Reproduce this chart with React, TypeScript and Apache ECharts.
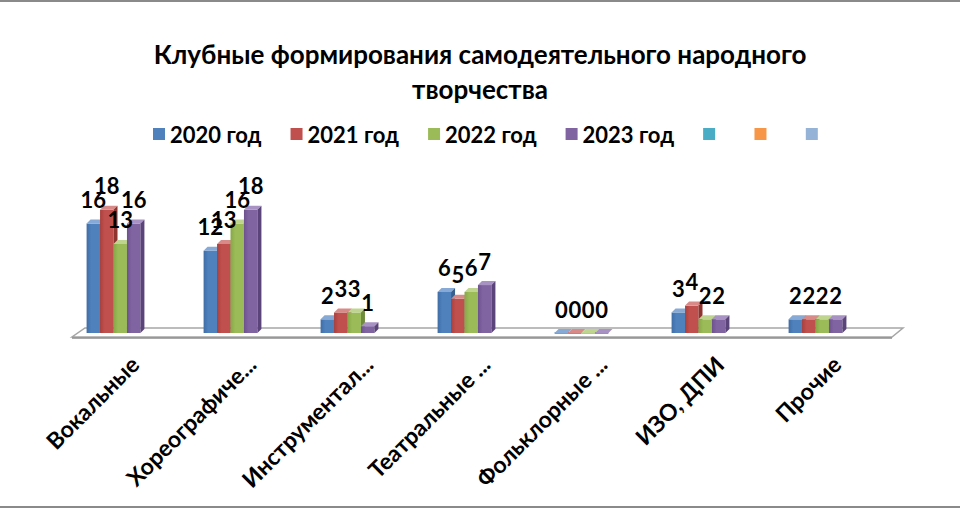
import React, { useEffect, useRef } from "react";
import * as echarts from "echarts";

const categories = [
  "Вокальные",
  "Хореографиче...",
  "Инструментал...",
  "Театральные ...",
  "Фольклорные ...",
  "ИЗО, ДПИ",
  "Прочие",
];
const years = ["2020 год", "2021 год", "2022 год", "2023 год"];
const values2020 = [16, 12, 2, 6, 0, 3, 2];
const values2021 = [18, 13, 3, 5, 0, 4, 2];
const values2022 = [13, 16, 3, 6, 0, 2, 2];
const values2023 = [16, 18, 1, 7, 0, 2, 2];
const emptySeriesNames = ["\u00a0", "\u00a0\u200b", "\u00a0\u200b\u200b"];

const palette = [
  { front: "#4F81BD", top: "#86A9D6", side: "#37608F", dark: "#3F6EA6" },
  { front: "#C0504D", top: "#D88A88", side: "#8E3532", dark: "#A9403D" },
  { front: "#9BBB59", top: "#BFD58F", side: "#6F8C3A", dark: "#87A747" },
  { front: "#8064A2", top: "#A892C3", side: "#5A4479", dark: "#6D528F" },
];
const emptyColors = ["#4BACC6", "#F79646", "#95B3D7"];

const FONT = "Lato, 'Open Sans', sans-serif";

export default function App() {
  const ref = useRef<HTMLDivElement>(null);

  useEffect(() => {
    if (!ref.current) return;
    const chart = echarts.init(ref.current, undefined, { renderer: "svg" });
    const seriesValues = [values2020, values2021, values2022, values2023];

    const makeRender = (s: number) => (params: any, api: any) => {
      const ci = api.value(0);
      const v = api.value(1);
      const base = api.coord([ci, 0]);
      const top = api.coord([ci, v]);
      const band = api.size([1, 0])[0];
      const bw = band * 0.115;
      const x0 = base[0] + (s - 2) * bw;
      const x1 = x0 + bw;
      const yb = base[1];
      const yt = top[1];
      const d = 4;
      const c = palette[s];
      const children: any[] = [];
      if (yb - yt > 0.5) {
        children.push({
          type: "rect",
          shape: { x: x0, y: yt, width: bw, height: yb - yt },
          style: {
            fill: new echarts.graphic.LinearGradient(0, 0, 1, 0, [
              { offset: 0, color: c.dark },
              { offset: 0.35, color: c.front },
              { offset: 1, color: c.front },
            ]),
          },
        });
      } else {
        children.push({
          type: "line",
          shape: { x1: x0, y1: yb, x2: x1, y2: yb },
          style: { stroke: c.front, lineWidth: 1.5 },
        });
      }
      children.push({
        type: "polygon",
        shape: { points: [[x0, yt], [x1, yt], [x1 + d, yt - d], [x0 + d, yt - d]] },
        style: { fill: c.top },
      });
      children.push({
        type: "polygon",
        shape: { points: [[x1, yt], [x1 + d, yt - d], [x1 + d, yb - d], [x1, yb]] },
        style: { fill: c.side },
      });
      children.push({
        type: "text",
        z2: 100,
        style: {
          text: String(v),
          x: x0 + bw / 2,
          y: yt - 24,
          align: "center",
          verticalAlign: "middle",
          fill: "#000",
          fontSize: 22,
          fontWeight: "bold",
          fontFamily: FONT,
        },
      });
      return { type: "group", children };
    };

    const floorRender = (params: any, api: any) => {
      const cs = params.coordSys;
      const yf = cs.y + cs.height + 4;
      const yback = yf - 9;
      const xl = cs.x + 17;
      const xr = cs.x + cs.width + 18;
      return {
        type: "group",
        children: [
          {
            type: "polygon",
            shape: { points: [[xl, yf], [xr, yf], [xr + 11, yback], [xl + 13, yback]] },
            style: { fill: "#FFFFFF", stroke: "#A6A6A6", lineWidth: 1.5 },
          },
          {
            type: "line",
            shape: { x1: xl, y1: yf + 1, x2: xr, y2: yf + 1 },
            style: { stroke: "#8C8C8C", lineWidth: 1.5 },
          },
        ],
      };
    };

    const series: any[] = [
      {
        type: "custom",
        name: "floor",
        xAxisIndex: 0,
        yAxisIndex: 0,
        renderItem: floorRender,
        data: [[0, 0]],
        encode: { x: 0, y: 1 },
        silent: true,
        z: 1,
      },
      ...years.map((name, s) => ({
        type: "custom",
        name,
        xAxisIndex: 0,
        yAxisIndex: 0,
        itemStyle: { color: palette[s].front },
        renderItem: makeRender(s),
        encode: { x: 0, y: 1 },
        data: seriesValues[s].map((v, i) => [i, v]),
        z: 2,
      })),
      ...emptySeriesNames.map((name, k) => ({
        type: "bar",
        name,
        xAxisIndex: 0,
        yAxisIndex: 0,
        itemStyle: { color: emptyColors[k] },
        data: [],
      })),
    ];

    chart.setOption({
      animation: false,
      backgroundColor: "#FFFFFF",
      title: {
        text: "Клубные формирования самодеятельного народного\nтворчества",
        left: "center",
        top: 31,
        textStyle: {
          fontFamily: FONT,
          fontSize: 26,
          fontWeight: "bold",
          color: "#000",
          lineHeight: 35,
        },
      },
      legend: {
        left: 153,
        top: 123,
        padding: 0,
        icon: "rect",
        itemWidth: 12,
        itemHeight: 12,
        itemGap: 29,
        data: [...years, ...emptySeriesNames],
        textStyle: {
          fontFamily: FONT,
          fontSize: 22,
          fontWeight: "bold",
          color: "#000",
        },
      },
      grid: [
        { left: 55, right: 86, top: 196, bottom: 177 },
        { left: 76, right: 65, top: 196, bottom: 177 },
      ],
      xAxis: [
        {
          type: "category",
          gridIndex: 0,
          data: categories,
          axisLine: { show: false },
          axisTick: { show: false },
          axisLabel: { show: false },
        },
        {
          type: "category",
          gridIndex: 1,
          data: categories,
          axisLine: { show: false },
          axisTick: { show: false },
          axisLabel: {
            interval: 0,
            rotate: 45,
            margin: 27,
            fontFamily: FONT,
            fontSize: 23,
            fontWeight: "bold",
            color: "#000",
          },
        },
      ],
      yAxis: [
        { type: "value", gridIndex: 0, min: 0, max: 20, show: false },
        { type: "value", gridIndex: 1, min: 0, max: 20, show: false },
      ],
      graphic: [
        {
          type: "rect",
          shape: { x: -5, y: 1, width: 970, height: 506 },
          style: { fill: "none", stroke: "#8A8A8A", lineWidth: 2 },
          silent: true,
          z: 100,
        },
      ],
      series,
    });
    return () => chart.dispose();
  }, []);

  return (
    <div
      ref={ref}
      style={{ position: "fixed", left: 0, top: 0, width: 960, height: 510 }}
    />
  );
}
